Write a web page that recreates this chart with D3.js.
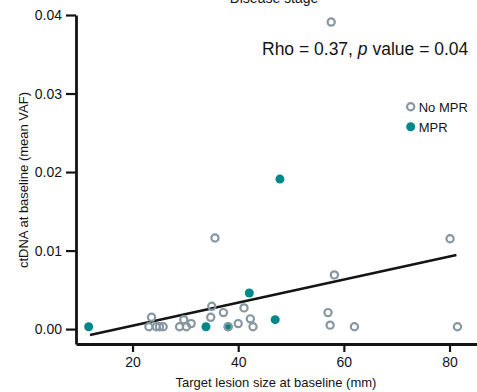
<!DOCTYPE html>
<html>
<head>
<meta charset="utf-8">
<script src="https://cdn.jsdelivr.net/npm/d3@7/dist/d3.min.js"></script>
<style>
  html, body { margin: 0; padding: 0; background: #fff; }
  svg { display: block; font-family: "Liberation Sans", Arial, sans-serif; }
</style>
</head>
<body>
<svg id="chart" width="477" height="392"></svg>
<script>
// Target lesion size (mm) and baseline ctDNA (mean VAF), by response group
const noMprSize = [57.6, 35.6, 58.2, 80.1, 81.5, 62.0, 57.0, 57.4, 41.1, 42.3, 42.8, 40.0,
                   35.0, 34.8, 37.2, 38.1, 23.6, 23.1, 24.5, 25.1, 25.8, 29.7, 28.9, 30.2, 31.1];
const noMprVaf  = [0.0391, 0.0116, 0.0069, 0.0115, 0.0003, 0.0003, 0.0021, 0.0005, 0.0027, 0.0013, 0.0003, 0.0007,
                   0.0029, 0.0015, 0.0021, 0.0003, 0.0015, 0.0003, 0.0003, 0.0003, 0.0003, 0.0012, 0.0003, 0.0003, 0.0007];
const mprSize = [11.7, 33.9, 38.1, 42.1, 47.0, 47.9];
const mprVaf  = [0.0003, 0.0003, 0.0003, 0.0046, 0.0012, 0.0191];

// Linear fit over the observed size range
const fitIntercept = -0.00252;
const fitSlope = 0.000147;
const fitRange = [11.95, 81.3];

const xTicks = [20, 40, 60, 80];
const yTicks = [0, 0.01, 0.02, 0.03, 0.04];
const groups = ["No MPR", "MPR"];

const GRAY = "#8796a0";
const TEAL = "#00878a";
const INK = "#141414";

const svg = d3.select("#chart");

const x = d3.scaleLinear().domain([9.3, 85.2]).range([76, 477]);
const y = d3.scaleLinear().domain([-0.0019, 0.04]).range([344, 15]);

// Axes
const xAxis = svg.append("g")
  .attr("transform", "translate(0,344)")
  .call(d3.axisBottom(x).tickValues(xTicks).tickSize(8).tickSizeOuter(0).tickPadding(5)
        .tickFormat(d3.format("d")));
const yAxis = svg.append("g")
  .attr("transform", "translate(76,0)")
  .call(d3.axisLeft(y).tickValues(yTicks).tickSize(10).tickSizeOuter(0).tickPadding(4)
        .tickFormat(d3.format(".2f")));

[xAxis, yAxis].forEach(g => {
  g.select(".domain").attr("stroke", INK).attr("stroke-width", 2.8);
  g.selectAll(".tick line").attr("stroke", INK).attr("stroke-width", 2.2);
  g.selectAll(".tick text").attr("fill", INK).style("font-size", "14px")
    .style("font-family", "'Liberation Sans', Arial, sans-serif");
});
yAxis.selectAll(".tick text").attr("dy", "0.35em");

// Axis titles
svg.append("text")
  .attr("x", 276).attr("y", 387)
  .attr("text-anchor", "middle")
  .attr("fill", INK).style("font-size", "13px")
  .text("Target lesion size at baseline (mm)");
svg.append("text")
  .attr("transform", "translate(28,180) rotate(-90)")
  .attr("text-anchor", "middle")
  .attr("fill", INK).style("font-size", "13px")
  .text("ctDNA at baseline (mean VAF)");

// Panel title (sits at the top edge of the panel)
svg.append("text")
  .attr("x", 274).attr("y", 3)
  .attr("text-anchor", "middle")
  .attr("fill", INK).style("font-size", "14px")
  .text("Disease stage");

// Fit line
svg.append("line")
  .attr("x1", x(fitRange[0])).attr("y1", y(fitIntercept + fitSlope * fitRange[0]))
  .attr("x2", x(fitRange[1])).attr("y2", y(fitIntercept + fitSlope * fitRange[1]))
  .attr("stroke", INK).attr("stroke-width", 2.5);

// MPR points (filled)
svg.append("g").selectAll("circle")
  .data(mprSize.map((s, i) => ({ s, v: mprVaf[i] })))
  .join("circle")
  .attr("cx", d => x(d.s)).attr("cy", d => y(d.v))
  .attr("r", 4.5)
  .attr("fill", TEAL);

// No MPR points (open)
svg.append("g").selectAll("circle")
  .data(noMprSize.map((s, i) => ({ s, v: noMprVaf[i] })))
  .join("circle")
  .attr("cx", d => x(d.s)).attr("cy", d => y(d.v))
  .attr("r", 3.6)
  .attr("fill", "none")
  .attr("stroke", GRAY).attr("stroke-width", 2.2);

// Correlation annotation
const stat = svg.append("text")
  .attr("x", 262).attr("y", 55)
  .attr("fill", INK).style("font-size", "17.5px");
stat.append("tspan").text("Rho = 0.37, ");
stat.append("tspan").style("font-style", "italic").text("p");
stat.append("tspan").text(" value = 0.04");

// Legend
const legend = svg.append("g").attr("transform", "translate(410.7,106.7)");
groups.forEach((g, i) => {
  const row = legend.append("g").attr("transform", `translate(0,${i * 20})`);
  if (i === 0) {
    row.append("circle").attr("r", 3.6).attr("fill", "none")
      .attr("stroke", GRAY).attr("stroke-width", 2.2);
  } else {
    row.append("circle").attr("r", 4.5).attr("fill", TEAL);
  }
  row.append("text").attr("x", 8).attr("y", 4.8)
    .attr("fill", INK).style("font-size", "13px").text(g);
});
</script>
</body>
</html>
